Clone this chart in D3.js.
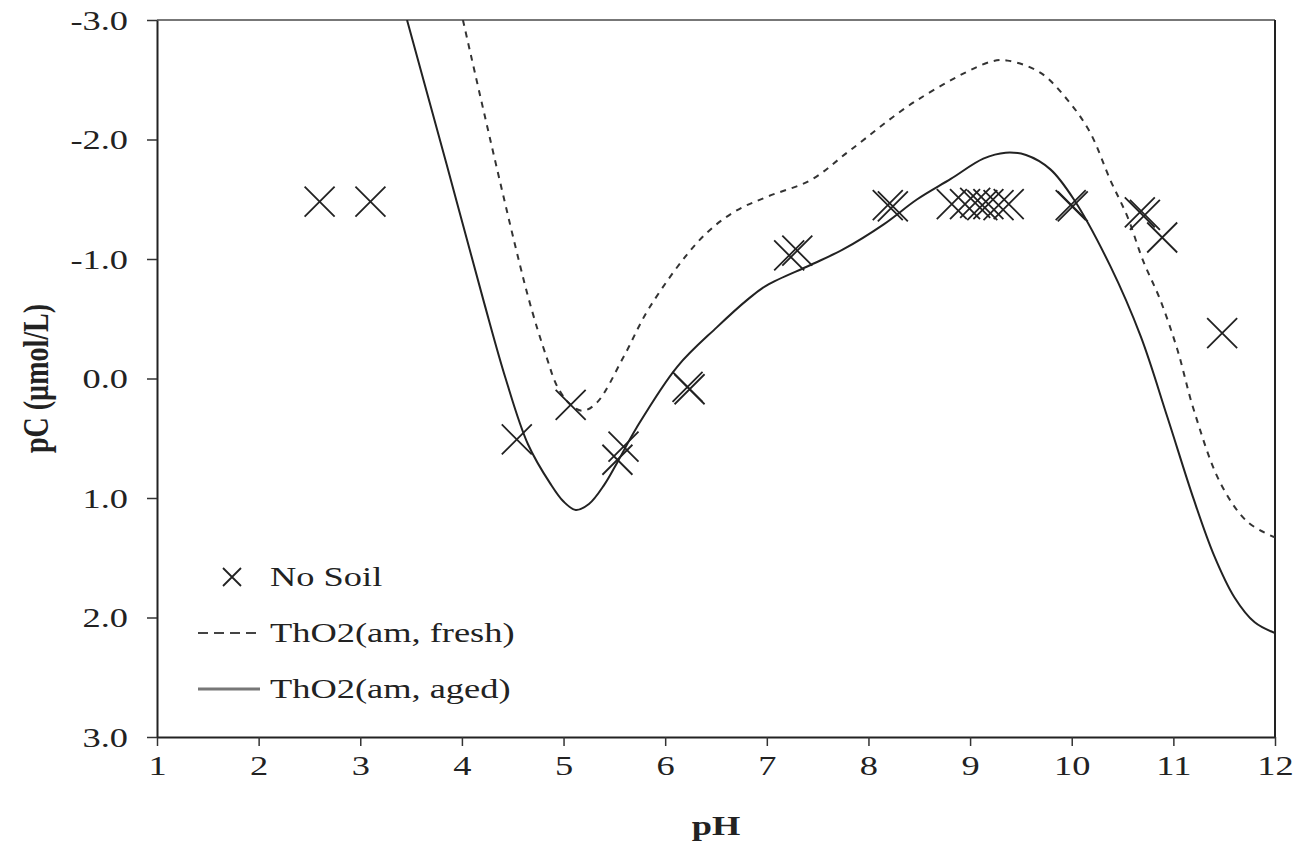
<!DOCTYPE html>
<html>
<head>
<meta charset="utf-8">
<script src="https://cdn.jsdelivr.net/npm/d3@7/dist/d3.min.js"></script>
<style>
  html, body { margin: 0; padding: 0; background: #fff; }
  svg { display: block; }
  text { font-family: "Liberation Serif", "Times New Roman", serif; fill: #222; }
</style>
</head>
<body>
<svg id="chart" width="1297" height="862"></svg>
<script>
// Measured solubility of thorium without soil (pH, pC)
const noSoilPH = [2.60, 3.10, 4.54, 5.07, 5.53, 5.59, 6.22, 6.24, 7.22, 7.30, 8.19, 8.24,
                  8.82, 8.95, 9.05, 9.12, 9.18, 9.28, 9.38, 9.99, 10.01, 10.67, 10.72, 10.89, 11.48];
const noSoilPC = [-1.48, -1.48, 0.51, 0.22, 0.68, 0.57, 0.07, 0.09, -1.03, -1.07, -1.45, -1.44,
                  -1.46, -1.46, -1.47, -1.45, -1.46, -1.45, -1.46, -1.45, -1.44, -1.39, -1.37, -1.18, -0.38];

// Model curve, ThO2(am, fresh)
const freshPH = [4.01, 4.64, 4.84, 4.94, 5.07, 5.19, 5.33, 5.59, 5.85, 6.34, 6.67, 7.00, 7.43, 7.82,
                 8.48, 9.20, 9.37, 9.69, 9.96, 10.18, 10.38, 10.55, 10.70, 10.87, 11.04, 11.20, 11.46, 11.73, 12.00];
const freshPC = [-3.00, -0.72, -0.16, 0.07, 0.22, 0.27, 0.20, -0.18, -0.60, -1.16, -1.39, -1.52, -1.66, -1.91,
                 -2.33, -2.65, -2.66, -2.56, -2.33, -2.06, -1.66, -1.35, -0.99, -0.66, -0.24, 0.26, 0.87, 1.20, 1.33];

// Model curve, ThO2(am, aged)
const agedPH = [3.46, 3.85, 4.21, 4.43, 4.65, 4.87, 5.00, 5.12, 5.25, 5.40, 5.53, 5.72, 6.12, 6.51, 6.81, 7.00, 7.43, 7.75,
                8.15, 8.48, 8.81, 9.13, 9.35, 9.55, 9.79, 10.02, 10.38, 10.68, 10.94, 11.20, 11.40, 11.60, 11.80, 12.00];
const agedPC = [-3.00, -1.79, -0.66, 0.00, 0.55, 0.88, 1.03, 1.10, 1.05, 0.89, 0.70, 0.41, -0.10, -0.43, -0.66, -0.78, -0.95, -1.08,
                -1.29, -1.50, -1.67, -1.84, -1.89, -1.87, -1.75, -1.50, -0.94, -0.35, 0.32, 1.01, 1.48, 1.83, 2.04, 2.13];

const xTicks = [1, 2, 3, 4, 5, 6, 7, 8, 9, 10, 11, 12];
const yTicks = [-3, -2, -1, 0, 1, 2, 3];
const legendLabels = ["No Soil", "ThO2(am, fresh)", "ThO2(am, aged)"];

const plot = { left: 157, top: 20, right: 1275, bottom: 737 };
const SX = 1.3;           // horizontal stretch of lettering
const FS = 28;            // font size

const svg = d3.select("#chart");

const x = d3.scaleLinear().domain([1, 12]).range([plot.left, plot.right]);
const y = d3.scaleLinear().domain([-3, 3]).range([plot.top, plot.bottom]);

function stretchedText(sel, tx, ty, str, anchor, weight) {
  return sel.append("g")
    .attr("transform", `translate(${tx},${ty}) scale(${SX},1)`)
    .append("text")
    .attr("text-anchor", anchor)
    .attr("dominant-baseline", "central")
    .style("font-size", FS + "px")
    .style("font-weight", weight || "normal")
    .text(str);
}

// clip region for curves and markers
svg.append("defs").append("clipPath").attr("id", "plotClip")
  .append("rect")
  .attr("x", plot.left).attr("y", plot.top)
  .attr("width", plot.right - plot.left).attr("height", plot.bottom - plot.top);

// frame: top and right edges
svg.append("line")
  .attr("x1", plot.left).attr("x2", plot.right)
  .attr("y1", plot.top).attr("y2", plot.top)
  .attr("stroke", "#777").attr("stroke-width", 2);
svg.append("line")
  .attr("x1", plot.right).attr("x2", plot.right)
  .attr("y1", plot.top).attr("y2", plot.bottom)
  .attr("stroke", "#222").attr("stroke-width", 2);

// x axis
const xAxis = svg.append("g")
  .attr("transform", `translate(0,${plot.bottom})`)
  .call(d3.axisBottom(x).tickValues(xTicks).tickSize(9).tickSizeOuter(0).tickFormat(d3.format("d")));
xAxis.select(".domain").attr("stroke", "#222").attr("stroke-width", 2);
xAxis.selectAll(".tick line").attr("stroke", "#333").attr("stroke-width", 1.5);
xAxis.selectAll(".tick text")
  .attr("y", 0).attr("dy", null)
  .attr("dominant-baseline", "central")
  .attr("transform", `translate(0,29) scale(${SX},1)`)
  .style("font-size", FS + "px").attr("fill", "#222");

// y axis
const yAxis = svg.append("g")
  .attr("transform", `translate(${plot.left},0)`)
  .call(d3.axisLeft(y).tickValues(yTicks).tickSize(10).tickSizeOuter(0).tickFormat(d3.format(".1f")));
yAxis.select(".domain").attr("stroke", "#222").attr("stroke-width", 2);
yAxis.selectAll(".tick line").attr("stroke", "#333").attr("stroke-width", 1.5);
yAxis.selectAll(".tick text")
  .attr("x", 0).attr("dy", null)
  .attr("dominant-baseline", "central")
  .attr("transform", `translate(-29,0) scale(${SX},1)`)
  .style("font-size", FS + "px").attr("fill", "#222")
  .text(d => d3.format(".1f")(d).replace("−", "-"));

// axis titles
stretchedText(svg, (plot.left + plot.right) / 2, 826, "pH", "middle", "bold");
svg.append("g")
  .attr("transform", `translate(36,${(plot.top + plot.bottom) / 2}) rotate(-90) scale(1,${SX})`)
  .append("text")
  .attr("text-anchor", "middle")
  .attr("dominant-baseline", "central")
  .style("font-size", FS + "px")
  .style("font-weight", "bold")
  .text("pC (µmol/L)");

// curves
const plotArea = svg.append("g").attr("clip-path", "url(#plotClip)");
const line = d3.line().x(d => x(d[0])).y(d => y(d[1])).curve(d3.curveCatmullRom.alpha(0.5));

const fresh = d3.zip(freshPH, freshPC);
const aged = d3.zip(agedPH, agedPC);

plotArea.append("path")
  .datum(fresh)
  .attr("d", line)
  .attr("fill", "none")
  .attr("stroke", "#333")
  .attr("stroke-width", 2)
  .attr("stroke-dasharray", "6,6");

plotArea.append("path")
  .datum(aged)
  .attr("d", line)
  .attr("fill", "none")
  .attr("stroke", "#222")
  .attr("stroke-width", 2);

// No Soil markers (×)
const crossPath = (r) => `M${-r},${-r}L${r},${r}M${-r},${r}L${r},${-r}`;
plotArea.selectAll("path.cross")
  .data(d3.zip(noSoilPH, noSoilPC))
  .join("path")
  .attr("class", "cross")
  .attr("transform", d => `translate(${x(d[0])},${y(d[1])})`)
  .attr("d", crossPath(15))
  .attr("fill", "none")
  .attr("stroke", "#222")
  .attr("stroke-width", 1.8);

// legend
const legend = svg.append("g");
const legY = [577, 633, 689];
legend.append("path")
  .attr("transform", `translate(232,${legY[0]})`)
  .attr("d", crossPath(9))
  .attr("fill", "none").attr("stroke", "#222").attr("stroke-width", 1.8);
legend.append("line")
  .attr("x1", 198).attr("x2", 260).attr("y1", legY[1]).attr("y2", legY[1])
  .attr("stroke", "#444").attr("stroke-width", 2).attr("stroke-dasharray", "10,6");
legend.append("line")
  .attr("x1", 198).attr("x2", 260).attr("y1", legY[2]).attr("y2", legY[2])
  .attr("stroke", "#777").attr("stroke-width", 3);
legendLabels.forEach((t, i) => stretchedText(legend, 270, legY[i], t, "start", "normal"));
</script>
</body>
</html>
